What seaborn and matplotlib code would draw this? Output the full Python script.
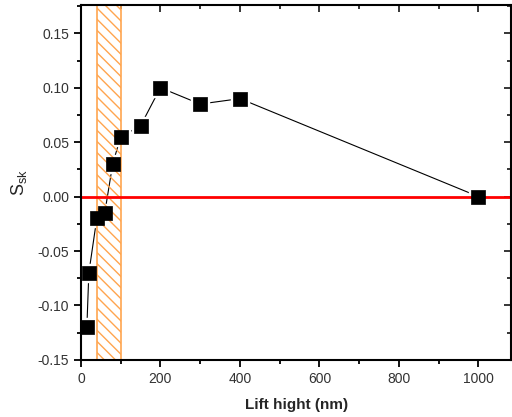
import matplotlib
matplotlib.use("Agg")
import matplotlib.pyplot as plt
import seaborn as sns
import pandas as pd
from matplotlib.ticker import MultipleLocator

lift = [15, 20, 40, 60, 80, 100, 150, 200, 300, 400, 1000]
ssk = [-0.12, -0.07, -0.02, -0.015, 0.03, 0.055, 0.065, 0.10, 0.085, 0.09, 0.0]
band = [40, 100]

df = pd.DataFrame({"lift": lift, "ssk": ssk})

sns.set_theme(style="ticks")
plt.rcParams["font.family"] = ["Liberation Sans", "DejaVu Sans"]

fig = plt.figure(figsize=(5.12, 4.17), dpi=100)
ax = fig.add_axes([0.158, 0.137, 0.841, 0.851])

sns.lineplot(data=df, x="lift", y="ssk", color="black", linewidth=0.8, ax=ax, zorder=2, sort=False)
ax.plot(df["lift"], df["ssk"], linestyle="none", marker="s", markersize=13, color="white", zorder=3)
ax.axvspan(band[0], band[1], facecolor="none", edgecolor="#FFA54F", hatch="\\\\\\", linewidth=1.2, zorder=4)
ax.axhline(0, color="#FF0000", linewidth=2, zorder=4)
sns.scatterplot(data=df, x="lift", y="ssk", marker="s", s=100, color="black", edgecolor="black", linewidth=0.5, ax=ax, zorder=5)

ax.set_xlim(0, 1083)
ax.set_ylim(-0.15, 0.176)
ax.xaxis.set_major_locator(MultipleLocator(200))
ax.xaxis.set_minor_locator(MultipleLocator(100))
ax.yaxis.set_major_locator(MultipleLocator(0.05))
ax.yaxis.set_minor_locator(MultipleLocator(0.025))
ax.yaxis.set_major_formatter(matplotlib.ticker.FormatStrFormatter("%.2f"))

for s in ax.spines.values():
    s.set_visible(True)
    s.set_linewidth(1.5)
    s.set_color("black")
    s.set_zorder(6)

ax.tick_params(axis="both", which="major", length=5, width=1.3, labelsize=10, color="black", labelcolor="#333333")
ax.tick_params(axis="both", which="minor", length=3, width=1.3, color="black")
ax.tick_params(axis="x", which="both", direction="out")
ax.tick_params(axis="y", which="both", direction="out")
secx = ax.secondary_xaxis("top")
secx.xaxis.set_major_locator(MultipleLocator(200))
secx.xaxis.set_minor_locator(MultipleLocator(100))
secx.tick_params(which="both", direction="in", labeltop=False, width=1.3)
secx.tick_params(which="major", length=5)
secx.tick_params(which="minor", length=3)
secy = ax.secondary_yaxis("right")
secy.yaxis.set_major_locator(MultipleLocator(0.05))
secy.yaxis.set_minor_locator(MultipleLocator(0.025))
secy.tick_params(which="both", direction="in", labelright=False, width=1.3)
secy.tick_params(which="major", length=5)
secy.tick_params(which="minor", length=3)
ax.tick_params(top=False, right=False, which="both")

ax.set_xlabel("Lift hight (nm)", fontsize=11, fontweight="bold", labelpad=9)
ax.set_ylabel(r"S$_{\mathregular{sk}}$", fontsize=13, labelpad=6)

fig.savefig("out.png", dpi=100)
